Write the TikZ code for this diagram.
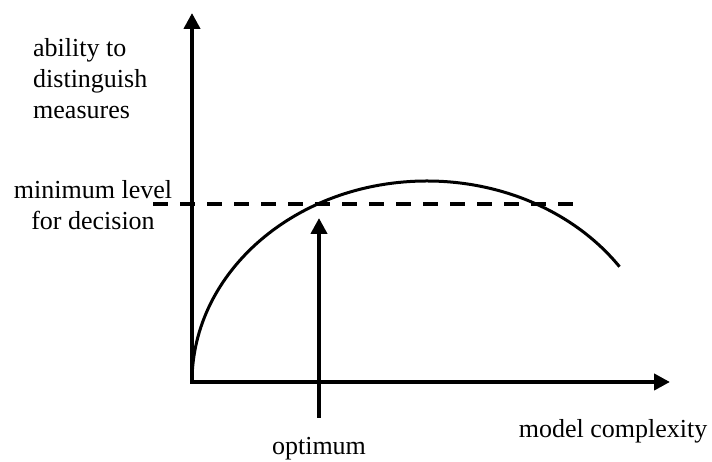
\documentclass[tikz,border=0pt]{standalone}
\usepackage{fontspec}
\setmainfont{Liberation Serif}
\usetikzlibrary{arrows.meta}
\tikzset{
  axis/.style={{Triangle[length=16pt,width=16pt]}-{Triangle[length=16pt,width=16pt]}, line width=4pt},
  pointer/.style={-{Triangle[length=16pt,width=16pt]}, line width=4pt},
  threshold/.style={line width=4pt, dash pattern=on 15pt off 12pt},
  curve/.style={line width=3pt},
  lbl/.style={font=\fontsize{26}{31}\selectfont, inner sep=0pt}
}
\begin{document}
\begin{tikzpicture}[x=1pt,y=1pt]
  \useasboundingbox (0,0) rectangle (712,462);
  \coordinate (origin) at (192,80);
  \coordinate (ytop) at (192,449);
  \coordinate (xend) at (670,80);
  \coordinate (dashstart) at (153,258);
  \coordinate (dashend) at (574,258);
  \coordinate (optbottom) at (319,44);
  \coordinate (opttop) at (319,244);
  \draw[axis] (ytop) -- (origin) -- (xend);
  \draw[curve] (origin) arc[start angle=180, end angle=35, x radius=235, y radius=201];
  \draw[threshold] (dashstart) -- (dashend);
  \draw[pointer] (optbottom) -- (opttop);
  \node[lbl, anchor=north west, align=left] (ability) at (33,424) {ability to\\distinguish\\measures};
  \node[lbl, anchor=north, align=center] (minlevel) at (93,282) {minimum level\\for decision};
  \node[lbl, anchor=base] (optimum) at (319,7) {optimum};
  \node[lbl, anchor=base] (complexity) at (613,24) {model complexity};
\end{tikzpicture}
\end{document}
